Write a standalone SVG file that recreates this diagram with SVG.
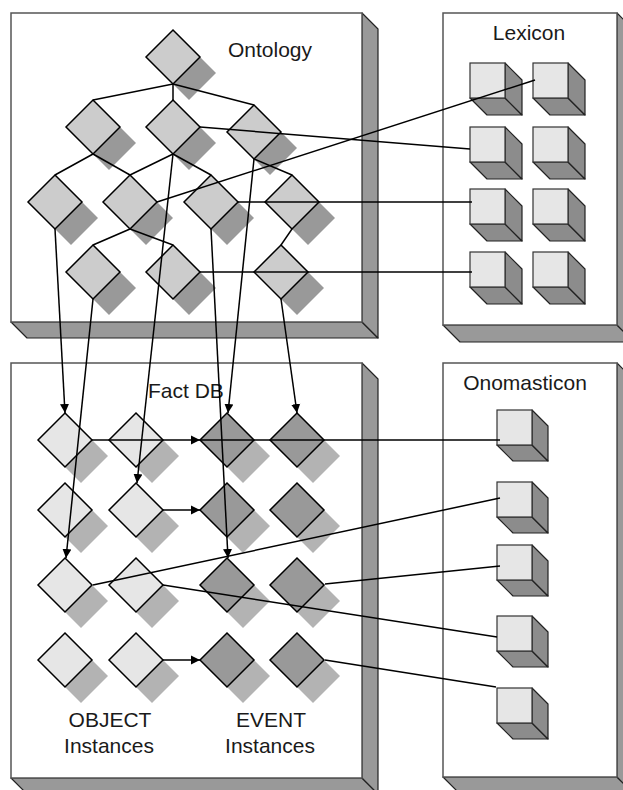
<svg xmlns="http://www.w3.org/2000/svg" width="623" height="790" viewBox="0 0 623 790">
<style>
.front{fill:#fff;stroke:#555;stroke-width:1.5}
.ext{fill:#999;stroke:#222;stroke-width:1.2;stroke-linejoin:round}
.dOnt{fill:#ccc;stroke:#000;stroke-width:1.5}
.sOnt{fill:#999}
.dObj{fill:#e6e6e6;stroke:#000;stroke-width:1.5}
.dEvt{fill:#999;stroke:#000;stroke-width:1.5}
.sFact{fill:#b3b3b3}
.cf{fill:#e6e6e6;stroke:#333;stroke-width:1.2}
.cs{fill:#8c8c8c;stroke:#222;stroke-width:1.2;stroke-linejoin:round}
.lbl{font-family:"Liberation Sans",Arial,sans-serif;font-size:21px;fill:#1a1a1a}
.edge{stroke:#000;stroke-width:1.5;fill:none}
</style>
<defs>
<marker id="arr" markerUnits="userSpaceOnUse" markerWidth="9" markerHeight="10" viewBox="0 0 10 10" refX="10" refY="5" orient="auto">
<path d="M0,0 L10,5 L0,10 z" fill="#000"/>
</marker>
<g id="cubeL">
<polygon class="cs" points="0,35 35,35 52,52 17,52"/>
<polygon class="cs" points="35,0 52,17 52,52 35,35"/>
<rect class="cf" x="0" y="0" width="35" height="35"/>
</g>
<g id="cubeO">
<polygon class="cs" points="0,35 35,35 51,51 16,51"/>
<polygon class="cs" points="35,0 51,16 51,51 35,35"/>
<rect class="cf" x="0" y="0" width="35" height="35"/>
</g>
</defs>

<!-- Boxes -->
<g id="ontology-box">
<polygon class="ext" points="11,322 362,322 378,338 27,338"/>
<polygon class="ext" points="362,13 378,29 378,338 362,322"/>
<rect class="front" x="11" y="13" width="351" height="309"/>
<text class="lbl" x="228" y="57">Ontology</text>
</g>
<g id="lexicon-box">
<polygon class="ext" points="443,325 617,325 634,342 460,342"/>
<polygon class="ext" points="617,13 634,30 634,342 617,325"/>
<rect class="front" x="443" y="13" width="174" height="312"/>
<text class="lbl" x="529" y="40" text-anchor="middle">Lexicon</text>
</g>
<g id="factdb-box">
<polygon class="ext" points="11,778 362,778 378,794 27,794"/>
<polygon class="ext" points="362,363 378,379 378,794 362,778"/>
<rect class="front" x="11" y="363" width="351" height="415"/>
<text class="lbl" x="148" y="398">Fact DB</text>
<text class="lbl" x="110" y="727" text-anchor="middle">OBJECT</text>
<text class="lbl" x="109" y="753" text-anchor="middle">Instances</text>
<text class="lbl" x="271" y="727" text-anchor="middle">EVENT</text>
<text class="lbl" x="270" y="753" text-anchor="middle">Instances</text>
</g>
<g id="onomasticon-box">
<polygon class="ext" points="443,777 617,777 634,794 460,794"/>
<polygon class="ext" points="617,363 634,380 634,794 617,777"/>
<rect class="front" x="443" y="363" width="174" height="414"/>
<text class="lbl" x="525" y="390" text-anchor="middle">Onomasticon</text>
</g>

<!-- Ontology nodes -->
<g id="o1"><polygon class="sOnt" points="189,46 216,73 189,100 162,73"/><polygon class="dOnt" points="173,30 200,57 173,84 146,57"/></g>
<g id="o2a"><polygon class="sOnt" points="109,116 136,143 109,170 82,143"/><polygon class="dOnt" points="93,100 120,127 93,154 66,127"/></g>
<g id="o2b"><polygon class="sOnt" points="189,116 216,143 189,170 162,143"/><polygon class="dOnt" points="173,100 200,127 173,154 146,127"/></g>
<g id="o2c"><polygon class="sOnt" points="270,121 297,148 270,175 243,148"/><polygon class="dOnt" points="254,105 281,132 254,159 227,132"/></g>
<g id="o3a"><polygon class="sOnt" points="71,191 98,218 71,245 44,218"/><polygon class="dOnt" points="55,175 82,202 55,229 28,202"/></g>
<g id="o3b"><polygon class="sOnt" points="146,191 173,218 146,245 119,218"/><polygon class="dOnt" points="130,175 157,202 130,229 103,202"/></g>
<g id="o3c"><polygon class="sOnt" points="227,191 254,218 227,245 200,218"/><polygon class="dOnt" points="211,175 238,202 211,229 184,202"/></g>
<g id="o3d"><polygon class="sOnt" points="308,191 335,218 308,245 281,218"/><polygon class="dOnt" points="292,175 319,202 292,229 265,202"/></g>
<g id="o4a"><polygon class="sOnt" points="109,261 136,288 109,315 82,288"/><polygon class="dOnt" points="93,245 120,272 93,299 66,272"/></g>
<g id="o4b"><polygon class="sOnt" points="189,261 216,288 189,315 162,288"/><polygon class="dOnt" points="173,245 200,272 173,299 146,272"/></g>
<g id="o4c"><polygon class="sOnt" points="297,261 324,288 297,315 270,288"/><polygon class="dOnt" points="281,245 308,272 281,299 254,272"/></g>

<!-- Lexicon nodes -->
<use id="lex-1a" href="#cubeL" x="470" y="63"/>
<use id="lex-1b" href="#cubeL" x="533" y="63"/>
<use id="lex-2a" href="#cubeL" x="470" y="127"/>
<use id="lex-2b" href="#cubeL" x="533" y="127"/>
<use id="lex-3a" href="#cubeL" x="470" y="189"/>
<use id="lex-3b" href="#cubeL" x="533" y="189"/>
<use id="lex-4a" href="#cubeL" x="470" y="252"/>
<use id="lex-4b" href="#cubeL" x="533" y="252"/>

<!-- Fact DB nodes -->
<g id="f11"><polygon class="sFact" points="81,429 108,456 81,483 54,456"/><polygon class="dObj" points="65,413 92,440 65,467 38,440"/></g>
<g id="f12"><polygon class="sFact" points="152,429 179,456 152,483 125,456"/><polygon class="dObj" points="136,413 163,440 136,467 109,440"/></g>
<g id="f13"><polygon class="sFact" points="243,429 270,456 243,483 216,456"/><polygon class="dEvt" points="227,413 254,440 227,467 200,440"/></g>
<g id="f14"><polygon class="sFact" points="313,429 340,456 313,483 286,456"/><polygon class="dEvt" points="297,413 324,440 297,467 270,440"/></g>
<g id="f21"><polygon class="sFact" points="81,499 108,526 81,553 54,526"/><polygon class="dObj" points="65,483 92,510 65,537 38,510"/></g>
<g id="f22"><polygon class="sFact" points="152,499 179,526 152,553 125,526"/><polygon class="dObj" points="136,483 163,510 136,537 109,510"/></g>
<g id="f23"><polygon class="sFact" points="243,499 270,526 243,553 216,526"/><polygon class="dEvt" points="227,483 254,510 227,537 200,510"/></g>
<g id="f24"><polygon class="sFact" points="313,499 340,526 313,553 286,526"/><polygon class="dEvt" points="297,483 324,510 297,537 270,510"/></g>
<g id="f31"><polygon class="sFact" points="81,574 108,601 81,628 54,601"/><polygon class="dObj" points="65,558 92,585 65,612 38,585"/></g>
<g id="f32"><polygon class="sFact" points="152,574 179,601 152,628 125,601"/><polygon class="dObj" points="136,558 163,585 136,612 109,585"/></g>
<g id="f33"><polygon class="sFact" points="243,574 270,601 243,628 216,601"/><polygon class="dEvt" points="227,558 254,585 227,612 200,585"/></g>
<g id="f34"><polygon class="sFact" points="313,574 340,601 313,628 286,601"/><polygon class="dEvt" points="297,558 324,585 297,612 270,585"/></g>
<g id="f41"><polygon class="sFact" points="81,649 108,676 81,703 54,676"/><polygon class="dObj" points="65,633 92,660 65,687 38,660"/></g>
<g id="f42"><polygon class="sFact" points="152,649 179,676 152,703 125,676"/><polygon class="dObj" points="136,633 163,660 136,687 109,660"/></g>
<g id="f43"><polygon class="sFact" points="243,649 270,676 243,703 216,676"/><polygon class="dEvt" points="227,633 254,660 227,687 200,660"/></g>
<g id="f44"><polygon class="sFact" points="313,649 340,676 313,703 286,676"/><polygon class="dEvt" points="297,633 324,660 297,687 270,660"/></g>

<!-- Onomasticon nodes -->
<use id="ono-1" href="#cubeO" x="497" y="410"/>
<use id="ono-2" href="#cubeO" x="497" y="482"/>
<use id="ono-3" href="#cubeO" x="497" y="545"/>
<use id="ono-4" href="#cubeO" x="497" y="616"/>
<use id="ono-5" href="#cubeO" x="497" y="688"/>

<!-- Connectors -->
<g id="connectors" class="edge">
<line x1="173" y1="84" x2="93" y2="100"/>
<line x1="173" y1="84" x2="173" y2="100"/>
<line x1="173" y1="84" x2="254" y2="105"/>
<line x1="93" y1="154" x2="55" y2="175"/>
<line x1="93" y1="154" x2="130" y2="175"/>
<line x1="173" y1="154" x2="130" y2="175"/>
<line x1="173" y1="154" x2="211" y2="175"/>
<line x1="254" y1="159" x2="292" y2="175"/>
<line x1="130" y1="229" x2="93" y2="245"/>
<line x1="130" y1="229" x2="173" y2="245"/>
<line x1="292" y1="229" x2="281" y2="245"/>

<line x1="200" y1="127" x2="470" y2="149"/>
<line x1="157" y1="202" x2="535" y2="80"/>
<line x1="238" y1="202" x2="472" y2="202"/>
<line x1="200" y1="272" x2="472" y2="272"/>

<line x1="55" y1="229" x2="65" y2="413" marker-end="url(#arr)"/>
<line x1="93" y1="299" x2="66" y2="558" marker-end="url(#arr)"/>
<line x1="173" y1="154" x2="137" y2="483" marker-end="url(#arr)"/>
<line x1="211" y1="229" x2="228" y2="558" marker-end="url(#arr)"/>
<line x1="254" y1="159" x2="228" y2="413" marker-end="url(#arr)"/>
<line x1="281" y1="299" x2="297" y2="413" marker-end="url(#arr)"/>

<line x1="92" y1="440" x2="200" y2="440" marker-end="url(#arr)"/>
<line x1="200" y1="440" x2="500" y2="440"/>
<line x1="163" y1="510" x2="200" y2="510" marker-end="url(#arr)"/>
<line x1="163" y1="660" x2="200" y2="660" marker-end="url(#arr)"/>
<line x1="93" y1="585" x2="500" y2="498"/>
<line x1="163" y1="585" x2="497" y2="637"/>
<line x1="325" y1="584" x2="500" y2="566"/>
<line x1="325" y1="660" x2="496" y2="687"/>
</g>
</svg>
